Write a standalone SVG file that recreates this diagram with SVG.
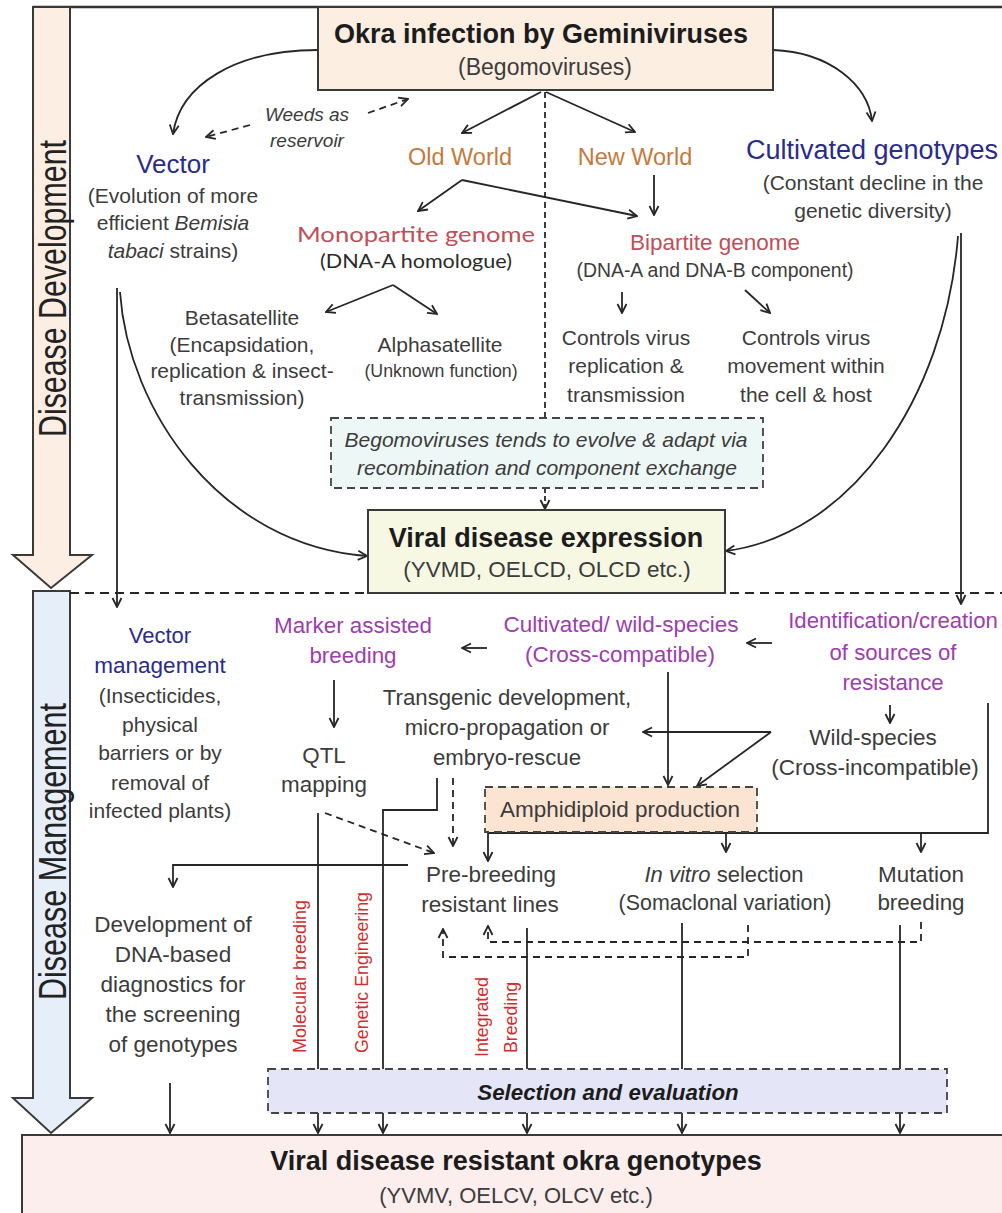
<svg xmlns="http://www.w3.org/2000/svg" width="1002" height="1213" viewBox="0 0 1002 1213">
<defs>
<style>
.tx{font-family:"Liberation Sans",Arial,sans-serif;fill:#3c3c3c;text-anchor:middle}
.lato{font-family:Lato,"Open Sans",sans-serif;text-anchor:middle}
.bold{font-weight:bold;fill:#1c1c1c}
.it{font-style:italic}
.navy{fill:#2b2b8c}
.org{fill:#c47a3e}
.rd{fill:#bf4f58}
.pur{fill:#9d3db0}
.red{fill:#d42c2c;text-anchor:start}
.side{font-family:"Liberation Sans Narrow","Liberation Sans",Arial,sans-serif;font-size:38px;fill:#222}
.cn{fill:none;stroke:#262626;stroke-width:1.8}
.dsh{stroke-dasharray:7 5}
.box{stroke:#3a3a3a;stroke-width:2}
.dbox{stroke:#444;stroke-width:1.8;stroke-dasharray:8 5}
</style>
<marker id="ah" viewBox="0 0 12 12" refX="11" refY="6" markerWidth="12" markerHeight="12" markerUnits="userSpaceOnUse" orient="auto">
<path d="M2,1.5 L11,6 L2,10.5" fill="none" stroke="#262626" stroke-width="1.8"/>
</marker>
</defs>
<rect width="1002" height="1213" fill="#ffffff"/>

<g id="frame">
<path d="M33,7 L1002,7" stroke="#333" stroke-width="2.5"/>
</g>

<g id="disease-development">
<path d="M33,7 L70,7 L70,555 L92,555 L51,588 L13,555 L33,555 Z" fill="#fdeee4" stroke="#3a3a3a" stroke-width="2"/>
<text class="side" transform="translate(66,437) rotate(-90)" textLength="297" lengthAdjust="spacingAndGlyphs">Disease Development</text>
</g>
<g id="disease-management">
<path d="M33,591 L70,591 L70,1098 L92,1098 L51,1133 L13,1098 L33,1098 Z" fill="#e6eef9" stroke="#3a3a3a" stroke-width="2"/>
<text class="side" transform="translate(66,1000) rotate(-90)" textLength="297" lengthAdjust="spacingAndGlyphs">Disease Management</text>
</g>

<g id="connectors">
<path class="cn" d="M318,50 C235,50 180,85 173,134" marker-end="url(#ah)"/>
<path class="cn" d="M773,50 C830,52 868,85 872,121" marker-end="url(#ah)"/>
<path class="cn dsh" stroke-width="1.5" d="M250,125 L206,137" marker-end="url(#ah)"/>
<path class="cn dsh" stroke-width="1.5" d="M368,113 L408,99" marker-end="url(#ah)"/>
<path class="cn" stroke-width="1.5" d="M541,92 L462,133" marker-end="url(#ah)"/>
<path class="cn" stroke-width="1.5" d="M546,92 L635,132" marker-end="url(#ah)"/>
<path class="cn" stroke-width="1.5" d="M462,180 L418,211" marker-end="url(#ah)"/>
<path class="cn" stroke-width="1.5" d="M462,180 L637,216" marker-end="url(#ah)"/>
<path class="cn" stroke-width="1.5" d="M654,175 L654,215" marker-end="url(#ah)"/>
<path class="cn" stroke-width="1.5" d="M393,285 L326,312" marker-end="url(#ah)"/>
<path class="cn" stroke-width="1.5" d="M393,285 L437,314" marker-end="url(#ah)"/>
<path class="cn" stroke-width="1.5" d="M622,292 L622,313" marker-end="url(#ah)"/>
<path class="cn" stroke-width="1.5" d="M745,290 L770,313" marker-end="url(#ah)"/>
<path class="cn" stroke-width="2.5" stroke-dasharray="6 4" d="M545,92 L545,418"/>
<path class="cn" stroke-width="2" stroke-dasharray="5 3" d="M545,488 L545,509" marker-end="url(#ah)"/>
<path class="cn" d="M117,288 L117,607" marker-end="url(#ah)"/>
<path class="cn" d="M120,292 C128,410 220,545 367,556" marker-end="url(#ah)"/>
<path class="cn" d="M961,233 L961,604" marker-end="url(#ah)"/>
<path class="cn" d="M958,236 C945,400 850,535 726,551" marker-end="url(#ah)"/>
<path class="cn" stroke-width="2" stroke-dasharray="9 6" d="M70,593 L1002,593"/>

<path class="cn" d="M334,680 L334,727" marker-end="url(#ah)"/>
<path class="cn" stroke-width="1.5" d="M487,648 L462,648" marker-end="url(#ah)"/>
<path class="cn" stroke-width="1.5" d="M772,643 L747,643" marker-end="url(#ah)"/>
<path class="cn" stroke-width="1.5" d="M890,705 L890,723" marker-end="url(#ah)"/>
<path class="cn" d="M668,672 L668,785" marker-end="url(#ah)"/>
<path class="cn" d="M771,732 L643,732" marker-end="url(#ah)"/>
<path class="cn" d="M771,732 L697,786" marker-end="url(#ah)"/>
<path class="cn" d="M988,703 L988,833 L488,833"/>
<path class="cn" d="M488,833 L488,861" marker-end="url(#ah)"/>
<path class="cn" d="M726,833 L726,852" marker-end="url(#ah)"/>
<path class="cn" d="M921,833 L921,852" marker-end="url(#ah)"/>
<path class="cn" d="M437,778 L437,810 L383,810 L383,1069"/>
<path class="cn dsh" d="M453,778 L453,846" marker-end="url(#ah)"/>
<path class="cn dsh" d="M325,813 L434,853" marker-end="url(#ah)"/>
<path class="cn" d="M318,813 L318,1069"/>
<path class="cn" d="M408,865 L173,865 L173,887" marker-end="url(#ah)"/>
<path class="cn dsh" d="M921,922 L921,942 L488,942 L488,926" marker-end="url(#ah)"/>
<path class="cn dsh" d="M748,925 L748,957 L443,957 L443,929" marker-end="url(#ah)"/>
<path class="cn" d="M527,928 L527,1069"/>
<path class="cn" d="M682,923 L682,1069"/>
<path class="cn" d="M900,925 L900,1069"/>
<path class="cn" d="M318,1113 L318,1133" marker-end="url(#ah)"/>
<path class="cn" d="M383,1113 L383,1133" marker-end="url(#ah)"/>
<path class="cn" d="M527,1113 L527,1133" marker-end="url(#ah)"/>
<path class="cn" d="M682,1113 L682,1133" marker-end="url(#ah)"/>
<path class="cn" d="M900,1113 L900,1133" marker-end="url(#ah)"/>
<path class="cn" d="M170,1083 L170,1133" marker-end="url(#ah)"/>
</g>

<g id="okra-infection">
<rect x="318" y="7" width="455" height="83" fill="#fcefe2" class="box"/>
<text class="tx bold" x="541" y="43" font-size="27">Okra infection by Geminiviruses</text>
<text class="tx" x="545" y="75" font-size="23">(Begomoviruses)</text>
</g>

<g id="weeds">
<text class="tx it" x="307" y="121" font-size="19">Weeds as</text>
<text class="tx it" x="307" y="147" font-size="19">reservoir</text>
</g>

<g id="vector">
<text class="tx navy" x="173" y="173" font-size="26">Vector</text>
<text class="tx" x="173" y="203" font-size="21">(Evolution of more</text>
<text class="tx" x="173" y="230" font-size="21">efficient <tspan font-style="italic">Bemisia</tspan></text>
<text class="tx" x="173" y="258" font-size="21"><tspan font-style="italic">tabaci</tspan> strains)</text>
</g>

<g id="old-world"><text class="tx org" x="460" y="165" font-size="23.5">Old World</text></g>
<g id="new-world"><text class="tx org" x="635" y="165" font-size="23.5">New World</text></g>

<g id="cultivated-genotypes">
<text class="tx navy" x="872" y="159" font-size="27">Cultivated genotypes</text>
<text class="tx" x="873" y="190" font-size="21">(Constant decline in the</text>
<text class="tx" x="873" y="218" font-size="21">genetic diversity)</text>
</g>

<g id="monopartite">
<text class="lato" x="416" y="242" font-size="22" fill="#bf4f58" textLength="238" lengthAdjust="spacingAndGlyphs">Monopartite genome</text>
<text class="lato" x="416" y="268" font-size="20" fill="#2a2a2a" textLength="192" lengthAdjust="spacingAndGlyphs">(DNA-A homologue)</text>
</g>

<g id="bipartite">
<text class="tx rd" x="715" y="250" font-size="22.5">Bipartite genome</text>
<text class="tx" x="715" y="277" font-size="19.4">(DNA-A and DNA-B component)</text>
</g>

<g id="betasatellite">
<text class="tx" x="242" y="325" font-size="21">Betasatellite</text>
<text class="tx" x="242" y="352" font-size="21">(Encapsidation,</text>
<text class="tx" x="242" y="378" font-size="21">replication &amp; insect-</text>
<text class="tx" x="242" y="405" font-size="21">transmission)</text>
</g>

<g id="alphasatellite">
<text class="tx" x="440" y="352" font-size="21">Alphasatellite</text>
<text class="tx" x="441" y="377" font-size="17.8">(Unknown function)</text>
</g>

<g id="controls-replication">
<text class="tx" x="626" y="345" font-size="21">Controls virus</text>
<text class="tx" x="626" y="373" font-size="21">replication &amp;</text>
<text class="tx" x="626" y="402" font-size="21">transmission</text>
</g>

<g id="controls-movement">
<text class="tx" x="806" y="345" font-size="21">Controls virus</text>
<text class="tx" x="806" y="373" font-size="21">movement within</text>
<text class="tx" x="806" y="402" font-size="21">the cell &amp; host</text>
</g>

<g id="begomovirus-evolution">
<rect x="331" y="418" width="432" height="70" fill="#edf7f6" class="dbox"/>
<text class="tx it" x="546" y="447" font-size="21" textLength="403" lengthAdjust="spacingAndGlyphs">Begomoviruses tends to evolve &amp; adapt via</text>
<text class="tx it" x="547" y="475" font-size="21" textLength="380" lengthAdjust="spacingAndGlyphs">recombination and component exchange</text>
</g>

<g id="viral-disease-expression">
<rect x="368" y="510" width="357" height="83" fill="#f6f8e3" class="box"/>
<text class="tx bold" x="546" y="547" font-size="27">Viral disease expression</text>
<text class="tx" x="547" y="577" font-size="22.5">(YVMD, OELCD, OLCD etc.)</text>
</g>

<g id="vector-management">
<text class="tx navy" x="160" y="643" font-size="22">Vector</text>
<text class="tx navy" x="160" y="673" font-size="22.5">management</text>
<text class="tx" x="160" y="703" font-size="21">(Insecticides,</text>
<text class="tx" x="160" y="732" font-size="21">physical</text>
<text class="tx" x="160" y="760" font-size="21">barriers or by</text>
<text class="tx" x="160" y="790" font-size="21">removal of</text>
<text class="tx" x="160" y="818" font-size="21">infected plants)</text>
</g>

<g id="marker-assisted-breeding">
<text class="tx pur" x="353" y="633" font-size="22.4">Marker assisted</text>
<text class="tx pur" x="353" y="663" font-size="22.4">breeding</text>
</g>

<g id="qtl-mapping">
<text class="tx" x="324" y="763" font-size="22.4">QTL</text>
<text class="tx" x="324" y="792" font-size="22.4">mapping</text>
</g>

<g id="transgenic">
<text class="tx" x="507" y="705" font-size="22.2">Transgenic development,</text>
<text class="tx" x="507" y="735" font-size="22.2">micro-propagation or</text>
<text class="tx" x="507" y="765" font-size="22.2">embryo-rescue</text>
</g>

<g id="cross-compatible">
<text class="tx pur" x="621" y="632" font-size="22.5">Cultivated/ wild-species</text>
<text class="tx pur" x="620" y="662" font-size="22.5">(Cross-compatible)</text>
</g>

<g id="sources-of-resistance">
<text class="tx pur" x="893" y="628" font-size="22.2">Identification/creation</text>
<text class="tx pur" x="893" y="660" font-size="22.2">of sources of</text>
<text class="tx pur" x="893" y="690" font-size="22.2">resistance</text>
</g>

<g id="wild-species">
<text class="tx" x="873" y="745" font-size="22.5">Wild-species</text>
<text class="tx" x="875" y="775" font-size="22.5">(Cross-incompatible)</text>
</g>

<g id="amphidiploid">
<rect x="485" y="787" width="272" height="45" fill="#fbe4d2" class="dbox"/>
<text class="tx" x="620" y="817" font-size="22.5">Amphidiploid production</text>
</g>

<g id="pre-breeding">
<text class="tx" x="491" y="882" font-size="22.5">Pre-breeding</text>
<text class="tx" x="490" y="912" font-size="22.5">resistant lines</text>
</g>

<g id="in-vitro">
<text class="tx" x="724" y="882" font-size="22"><tspan font-style="italic">In vitro</tspan> selection</text>
<text class="tx" x="725" y="910" font-size="21.4">(Somaclonal variation)</text>
</g>

<g id="mutation-breeding">
<text class="tx" x="921" y="882" font-size="22.4">Mutation</text>
<text class="tx" x="921" y="910" font-size="22.4">breeding</text>
</g>

<g id="diagnostics">
<text class="tx" x="173" y="932" font-size="22.5">Development of</text>
<text class="tx" x="173" y="962" font-size="22.5">DNA-based</text>
<text class="tx" x="173" y="992" font-size="22.5">diagnostics for</text>
<text class="tx" x="173" y="1022" font-size="22.5">the screening</text>
<text class="tx" x="173" y="1052" font-size="22.5">of genotypes</text>
</g>

<g id="route-labels">
<text class="tx red" font-size="18" transform="translate(306,1053) rotate(-90)" textLength="153" lengthAdjust="spacingAndGlyphs">Molecular breeding</text>
<text class="tx red" font-size="18" transform="translate(368,1053) rotate(-90)" textLength="161" lengthAdjust="spacingAndGlyphs">Genetic Engineering</text>
<text class="tx red" font-size="18" transform="translate(488,1057) rotate(-90)" textLength="80" lengthAdjust="spacingAndGlyphs">Integrated</text>
<text class="tx red" font-size="18" transform="translate(517,1053) rotate(-90)" textLength="71" lengthAdjust="spacingAndGlyphs">Breeding</text>
</g>

<g id="selection-evaluation">
<rect x="268" y="1069" width="679" height="44" fill="#e4e6f8" class="dbox"/>
<text class="tx bold it" x="608" y="1100" font-size="22.3">Selection and evaluation</text>
</g>

<g id="resistant-genotypes">
<rect x="22" y="1135" width="990" height="90" fill="#fbeeec" class="box"/>
<text class="tx bold" x="516" y="1170" font-size="27">Viral disease resistant okra genotypes</text>
<text class="tx" x="516" y="1203" font-size="22">(YVMV, OELCV, OLCV etc.)</text>
</g>
</svg>
